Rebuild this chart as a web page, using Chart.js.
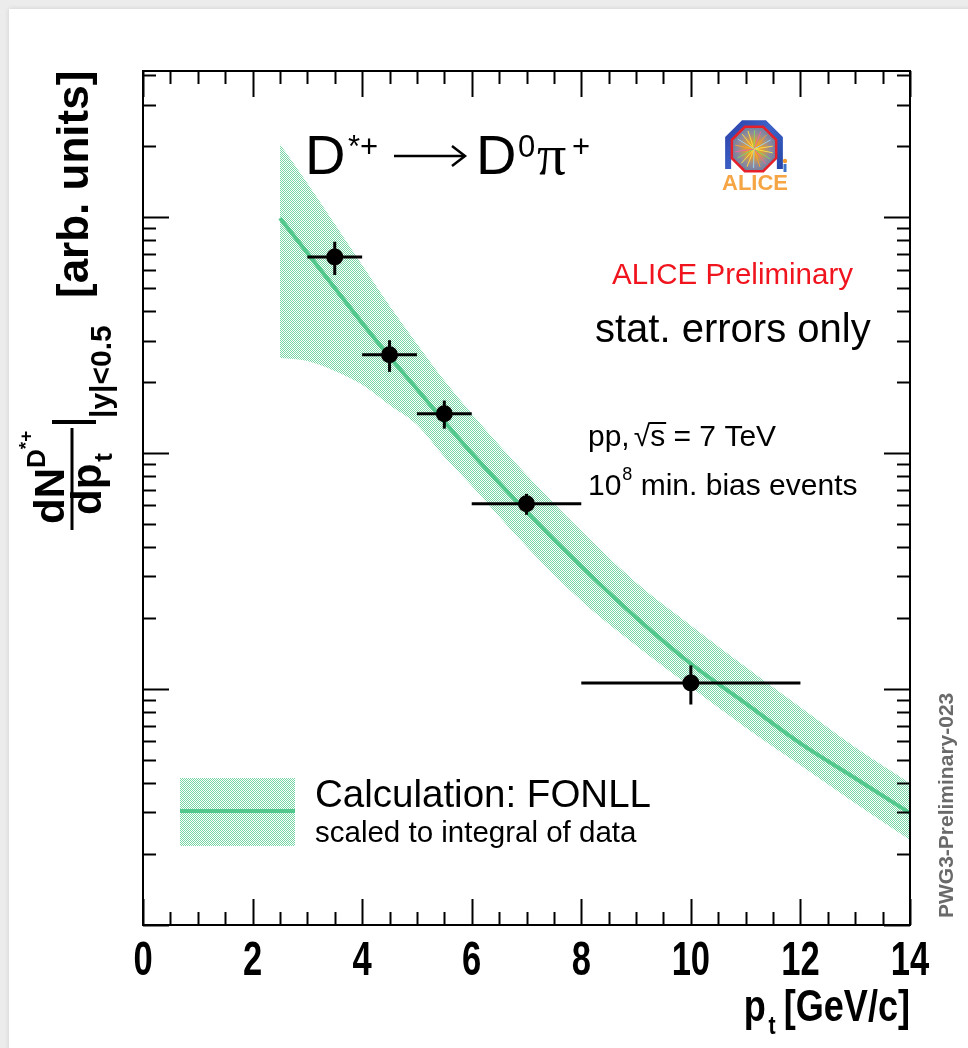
<!DOCTYPE html>
<html>
<head>
<meta charset="utf-8">
<title>D*+ yield vs pt</title>
<script src="https://cdn.jsdelivr.net/npm/chart.js@4.4.1/dist/chart.umd.min.js"></script>
<style>
  html, body { margin: 0; padding: 0; }
  body { width: 968px; height: 1048px; background: #ececec; position: relative; overflow: hidden; }
  .card { position: absolute; left: 9px; top: 9px; right: -20px; bottom: -20px; background: #fff; box-shadow: 0 0 5px rgba(0,0,0,0.12); }
  #plot { position: absolute; left: 0; top: 0; }
</style>
</head>
<body>
<div class="card"></div>
<canvas id="plot" width="968" height="1048"></canvas>
<script>
(function () {
    'use strict';

    // D*+ -> D0 pi+ raw yield per pt bin (stat. errors only)
    const ptCentre = [3.5, 4.5, 5.5, 7, 10];
    const ptLow = [3, 4, 5, 6, 8];
    const ptHigh = [4, 5, 6, 8, 12];
    const yieldVal = [678, 261, 147, 61, 10.6];
    const yieldErr = [109, 40, 20, 6.2, 2.0];

    // FONLL calculation, scaled to the integral of the data
    const fonllPt = [2.5, 3, 3.5, 4, 4.5, 5, 5.5, 6, 7, 8, 9, 10, 11, 12, 13, 14];
    const fonllCentral = [991, 705, 501, 356, 256, 187, 136, 100, 56.5, 33.1, 20.1, 12.8, 8.7, 5.89, 4.19, 2.98];
    const fonllMax = [2039, 1394, 935, 627, 421, 290, 203, 147, 81, 46.9, 28.3, 18.6, 12.4, 8.37, 5.67, 3.99];
    const fonllMin = [253, 246, 223, 195, 160, 132, 96.6, 72.8, 40.2, 23.7, 15.3, 10.2, 6.88, 4.75, 3.28, 2.29];

    // axis ranges and labelled ticks
    const xTickValues = [0, 2, 4, 6, 8, 10, 12, 14];
    const X_MIN = 0, X_MAX = 14;
    const Y_MIN = 1, Y_MAX = 4165;

    const GREEN = 'rgb(82,200,140)';
    const HATCH = 'rgb(118,214,164)';
    const SANS = '"Liberation Sans", Arial, Helvetica, sans-serif';
    const SERIF = '"Liberation Serif", "Times New Roman", serif';

    const canvas = document.getElementById('plot');
    const ctx0 = canvas.getContext('2d');

    // ROOT-like dotted fill
    function makeHatch() {
        const c = document.createElement('canvas');
        c.width = 2; c.height = 2;
        const g = c.getContext('2d');
        g.fillStyle = HATCH;
        g.fillRect(0, 0, 1, 1);
        g.fillRect(1, 1, 1, 1);
        return ctx0.createPattern(c, 'repeat');
    }
    const hatch = makeHatch();

    const xy = (xs, ys) => xs.map((x, i) => ({ x: x, y: ys[i] }));

    function put(ctx, str, x, y, size, o) {
        o = o || {};
        ctx.save();
        ctx.translate(x, y);
        if (o.rot) ctx.rotate(o.rot);
        if (o.sx) ctx.scale(o.sx, 1);
        ctx.font = (o.bold ? 'bold ' : '') + size + 'px ' + (o.family || SANS);
        ctx.fillStyle = o.color || '#000';
        ctx.textAlign = o.align || 'left';
        ctx.textBaseline = 'alphabetic';
        ctx.fillText(str, 0, 0);
        const w = ctx.measureText(str).width * (o.sx || 1);
        ctx.restore();
        return w;
    }

    function seg(ctx, x1, y1, x2, y2) {
        ctx.beginPath();
        ctx.moveTo(x1, y1);
        ctx.lineTo(x2, y2);
        ctx.stroke();
    }

    // error bars, frame and inward ticks on all four sides
    const axesPlugin = {
        id: 'rootAxes',
        afterDatasetsDraw(chart) {
            const { ctx, chartArea: a, scales: { x, y } } = chart;
            ctx.save();
            ctx.strokeStyle = '#000';
            ctx.lineCap = 'butt';

            ctx.lineWidth = 3;
            ptCentre.forEach((pt, i) => {
                const px = x.getPixelForValue(pt);
                const py = y.getPixelForValue(yieldVal[i]);
                seg(ctx, x.getPixelForValue(ptLow[i]), py, x.getPixelForValue(ptHigh[i]), py);
                seg(ctx, px, y.getPixelForValue(yieldVal[i] + yieldErr[i]), px, y.getPixelForValue(yieldVal[i] - yieldErr[i]));
            });

            ctx.lineWidth = 2;
            const nx = Math.round((x.max - x.min) / 0.5);
            for (let i = 0; i <= nx; i++) {
                const v = x.min + i * 0.5;
                const px = Math.round(x.getPixelForValue(v)) + 0.5;
                const len = (i % 4 === 0) ? 26 : 13;
                seg(ctx, px, a.bottom, px, a.bottom - len);
                seg(ctx, px, a.top, px, a.top + len);
            }
            const e0 = Math.floor(Math.log10(y.min));
            const e1 = Math.ceil(Math.log10(y.max));
            for (let e = e0; e <= e1; e++) {
                for (let m = 1; m <= 9; m++) {
                    const v = m * Math.pow(10, e);
                    if (v < y.min || v > y.max) continue;
                    const py = Math.round(y.getPixelForValue(v)) + 0.5;
                    const len = m === 1 ? 26 : 13;
                    seg(ctx, a.left, py, a.left + len, py);
                    seg(ctx, a.right, py, a.right - len, py);
                }
            }
            ctx.strokeRect(a.left, a.top, a.width, a.height);
            ctx.restore();
        },
        afterDraw(chart) {
            const { ctx, scales: { x } } = chart;
            ctx.save();

            // x tick labels, condensed bold
            xTickValues.forEach(v => {
                put(ctx, String(v), x.getPixelForValue(v), 975, 48, { bold: true, sx: 0.72, align: 'center' });
            });

            // x title: p_t [GeV/c]
            let w = put(ctx, '[GeV/c]', 910, 1021, 44, { bold: true, sx: 0.82, align: 'right' });
            put(ctx, 't', 910 - w - 8, 1034, 26, { bold: true, sx: 0.82, align: 'right' });
            put(ctx, 'p', 910 - w - 18, 1021, 44, { bold: true, sx: 0.82, align: 'right' });

            // y title, rotated: dN^{D*+}/dp_t |_{|y|<0.5} [arb. units]
            const R = -Math.PI / 2;
            let yy = 524;
            yy -= put(ctx, 'dN', 64, yy, 42, { bold: true, rot: R });
            yy -= put(ctx, 'D', 45, yy, 26, { bold: true, rot: R });
            put(ctx, '*+', 32, yy, 19, { bold: true, rot: R });
            ctx.strokeStyle = '#000';
            ctx.lineWidth = 3;
            seg(ctx, 72, 530, 72, 428);
            yy = 515;
            yy -= put(ctx, 'dp', 101, yy, 42, { bold: true, rot: R });
            put(ctx, 't', 112, yy - 2, 26, { bold: true, rot: R });
            ctx.lineWidth = 4;
            seg(ctx, 52, 422, 96, 422);
            put(ctx, '|y|<0.5', 111, 418, 30, { bold: true, rot: R });
            put(ctx, '[arb. units]', 88, 298, 44, { bold: true, rot: R });

            // decay channel
            put(ctx, 'D', 305, 174, 56);
            put(ctx, '*+', 348, 157, 31);
            ctx.lineWidth = 2.5;
            seg(ctx, 394, 156, 465, 156);
            ctx.beginPath();
            ctx.moveTo(452, 146); ctx.lineTo(465, 156); ctx.lineTo(452, 166);
            ctx.stroke();
            put(ctx, 'D', 476, 174, 56);
            put(ctx, '0', 518, 157, 31);
            put(ctx, 'π', 537, 174, 58, { family: SERIF });
            put(ctx, '+', 572, 157, 31);

            drawLogo(ctx, 754, 149);

            put(ctx, 'ALICE Preliminary', 612, 284, 29.5, { color: '#f0141e' });
            put(ctx, 'stat. errors only', 595, 342, 40);

            // pp, sqrt(s) = 7 TeV
            let xx = 588;
            xx += put(ctx, 'pp,', xx, 446, 30) + 4;
            const wr = put(ctx, '√', xx, 446, 30);
            const ws = put(ctx, 's', xx + wr, 446, 30);
            ctx.lineWidth = 2;
            seg(ctx, xx + wr - 1, 423, xx + wr + ws + 1, 423);
            put(ctx, ' = 7 TeV', xx + wr + ws, 446, 30);

            xx = 588;
            xx += put(ctx, '10', xx, 495, 30);
            xx += put(ctx, '8', xx + 1, 480, 18) + 1;
            put(ctx, ' min. bias events', xx, 495, 30);

            // legend
            ctx.fillStyle = hatch;
            ctx.fillRect(180, 778, 115, 68);
            ctx.strokeStyle = GREEN;
            ctx.lineWidth = 4;
            seg(ctx, 180, 811, 295, 811);
            put(ctx, 'Calculation: FONLL', 315, 807, 38.5);
            put(ctx, 'scaled to integral of data', 315, 842, 29.5);

            put(ctx, 'PWG3-Preliminary-023', 953, 918, 21, { bold: true, rot: R, color: '#6a6a6a' });
            ctx.restore();
        }
    };

    // collaboration logo: magnet arch, detector octagon, name
    function drawLogo(ctx, cx, cy) {
        ctx.save();
        const oct = (r, rot) => {
            const pts = [];
            for (let k = 0; k < 8; k++) {
                const t = rot + k * Math.PI / 4;
                pts.push([cx + r * Math.cos(t), cy + r * Math.sin(t)]);
            }
            return pts;
        };
        // blue arch
        const arch = oct(28, Math.PI / 8);
        const g1 = ctx.createLinearGradient(cx - 28, cy - 28, cx + 28, cy + 20);
        g1.addColorStop(0, '#2a3fa8');
        g1.addColorStop(0.5, '#3d63c8');
        g1.addColorStop(1, '#2746a8');
        ctx.strokeStyle = g1;
        ctx.lineWidth = 6;
        ctx.lineJoin = 'miter';
        ctx.beginPath();
        ctx.moveTo(arch[3][0], cy + 20);
        [3, 4, 5, 6, 7].forEach(k => ctx.lineTo(arch[k][0], arch[k][1]));
        ctx.lineTo(arch[0][0], cy + 20);
        ctx.stroke();

        // red octagon with event display
        const ring = oct(24, Math.PI / 8);
        const g2 = ctx.createRadialGradient(cx, cy, 1, cx, cy, 23);
        g2.addColorStop(0, '#ffb000');
        g2.addColorStop(0.35, '#d89a40');
        g2.addColorStop(0.7, '#8f8a9c');
        g2.addColorStop(1, '#6d7fa0');
        ctx.fillStyle = g2;
        ctx.beginPath();
        ring.forEach((p, k) => k ? ctx.lineTo(p[0], p[1]) : ctx.moveTo(p[0], p[1]));
        ctx.closePath();
        ctx.fill();
        ctx.strokeStyle = '#e5202a';
        ctx.lineWidth = 2.5;
        ctx.stroke();
        const rays = ['#f4e04a', '#7fd46a', '#e86aa0', '#f6a030', '#9ad0f0', '#ffd84a'];
        ctx.lineWidth = 1;
        for (let k = 0; k < 18; k++) {
            const t = k * 2 * Math.PI / 18 + 0.2;
            ctx.strokeStyle = rays[k % rays.length];
            seg(ctx, cx, cy, cx + 19 * Math.cos(t), cy + 19 * Math.sin(t));
        }
        // small figure
        ctx.fillStyle = '#f29a2e';
        ctx.beginPath(); ctx.arc(cx + 31, cy + 12, 2.2, 0, 2 * Math.PI); ctx.fill();
        ctx.fillStyle = '#3b74c8';
        ctx.fillRect(cx + 29.5, cy + 15, 3, 8);

        put(ctx, 'ALICE', cx + 1, cy + 41, 22, { bold: true, color: '#f5a544', align: 'center' });
        ctx.restore();
    }

    new Chart(canvas, {
        type: 'line',
        data: {
            datasets: [
                {
                    label: 'data',
                    data: xy(ptCentre, yieldVal),
                    showLine: false,
                    pointRadius: 8.5,
                    pointBackgroundColor: '#000',
                    pointBorderColor: '#000',
                    pointBorderWidth: 0
                },
                {
                    label: 'FONLL central',
                    data: xy(fonllPt, fonllCentral),
                    borderColor: GREEN,
                    borderWidth: 4,
                    pointRadius: 0,
                    cubicInterpolationMode: 'monotone',
                    fill: false
                },
                {
                    label: 'FONLL max',
                    data: xy(fonllPt, fonllMax),
                    borderWidth: 0,
                    borderColor: 'rgba(0,0,0,0)',
                    pointRadius: 0,
                    cubicInterpolationMode: 'monotone',
                    backgroundColor: hatch,
                    fill: '+1'
                },
                {
                    label: 'FONLL min',
                    data: xy(fonllPt, fonllMin),
                    borderWidth: 0,
                    borderColor: 'rgba(0,0,0,0)',
                    pointRadius: 0,
                    cubicInterpolationMode: 'monotone',
                    fill: false
                }
            ]
        },
        options: {
            responsive: false,
            animation: false,
            events: [],
            layout: { padding: { left: 143, top: 71, right: 58, bottom: 123 } },
            plugins: { legend: { display: false }, tooltip: { enabled: false } },
            scales: {
                x: { type: 'linear', min: X_MIN, max: X_MAX, display: false, ticks: { stepSize: 2 } },
                y: { type: 'logarithmic', min: Y_MIN, max: Y_MAX, display: false }
            }
        },
        plugins: [axesPlugin]
    });
})();
</script>
</body>
</html>
